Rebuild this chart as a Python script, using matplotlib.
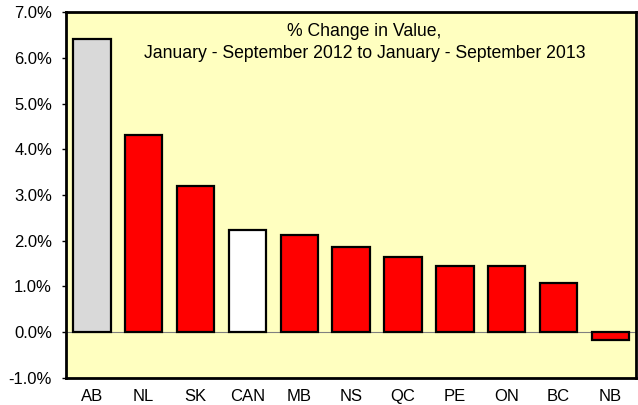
import numpy as np
import matplotlib.pyplot as plt
from matplotlib.ticker import FuncFormatter

plt.rcParams['font.family'] = ['Liberation Sans', 'DejaVu Sans']

regions = ['AB', 'NL', 'SK', 'CAN', 'MB', 'NS', 'QC', 'PE', 'ON', 'BC', 'NB']
change = [6.40, 4.32, 3.19, 2.24, 2.12, 1.86, 1.64, 1.45, 1.44, 1.07, -0.16]
colours = ['#D9D9D9', 'red', 'red', 'white', 'red', 'red', 'red', 'red', 'red', 'red', 'red']

fig = plt.figure(figsize=(6.38, 4.05), dpi=100)
ax = fig.add_axes([0.1034, 0.0667, 0.894, 0.9036])
ax.set_facecolor('#FFFFC0')

x = np.arange(len(regions))
ax.bar(x, change, width=0.72, color=colours, edgecolor='black', linewidth=1.6, zorder=3)
ax.axhline(0, color='#808080', linewidth=0.8, zorder=2)

ax.set_xlim(-0.5, len(regions) - 0.5)
ax.set_ylim(-1, 7)
ax.set_yticks(np.arange(-1, 8, 1))
ax.yaxis.set_major_formatter(FuncFormatter(lambda v, p: '%.1f%%' % v))
ax.set_xticks(x)
ax.set_xticklabels(regions)
ax.tick_params(axis='x', length=0, pad=8, labelsize=12)
ax.tick_params(axis='y', length=3, width=1, labelsize=12, pad=7)
for s in ax.spines.values():
    s.set_linewidth(2)

ax.text(0.523, 0.917, '% Change in Value,\nJanuary - September 2012 to January - September 2013',
        transform=ax.transAxes, ha='center', va='center', fontsize=12.7, linespacing=1.4)

fig.savefig('out.png', dpi=100)
